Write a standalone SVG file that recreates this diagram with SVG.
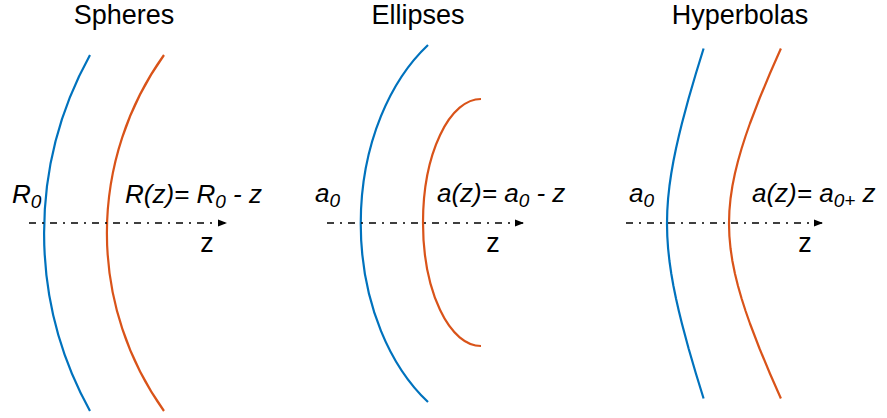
<svg xmlns="http://www.w3.org/2000/svg" width="887" height="418" viewBox="0 0 887 418">
<style>
.title{font-family:"Liberation Sans",Arial,sans-serif;font-size:27px;fill:#000;text-anchor:middle}
.lab{font-family:"Liberation Sans",Arial,sans-serif;font-size:26px;font-style:italic;fill:#000}
.sub{font-size:19px}
.zl{font-family:"Liberation Sans",Arial,sans-serif;font-size:27px;fill:#000;text-anchor:middle}
.blue{fill:none;stroke:#0072BD;stroke-width:2.2;stroke-linejoin:round}
.orange{fill:none;stroke:#D95319;stroke-width:2.2;stroke-linejoin:round}
.axis{fill:none;stroke:#000;stroke-width:1.5;stroke-dasharray:7 6 2 6}
</style>
<defs>
<marker id="arr" viewBox="0 0 10 8" refX="10" refY="4" markerWidth="6" markerHeight="4.8" markerUnits="strokeWidth" orient="auto">
<path d="M0,0 L10,4 L0,8 Z" fill="#000"/>
</marker>
</defs>

<g id="spheres">
<text class="title" x="124" y="24">Spheres</text>
<path class="blue" d="M90,55 A368,368 0 0 0 90,411"/>
<path class="orange" d="M164,55 A306,306 0 0 0 164,411"/>
<text class="lab" x="12" y="203">R<tspan class="sub" dy="5">0</tspan></text>
<text class="lab" x="125" y="203">R(z)= R<tspan class="sub" dy="5">0</tspan><tspan dy="-5"> - z</tspan></text>
<text class="zl" x="207" y="252">z</text>
</g>

<g id="ellipses">
<text class="title" x="418" y="24">Ellipses</text>
<path class="blue" d="M428,45 A150,214 0 0 0 428,402"/>
<path class="orange" d="M481,99 A58,123.5 0 0 0 481,346"/>
<text class="lab" x="315" y="202">a<tspan class="sub" dy="5">0</tspan></text>
<text class="lab" x="437" y="202">a(z)= a<tspan class="sub" dy="5">0</tspan><tspan dy="-5"> - z</tspan></text>
<text class="zl" x="493" y="252">z</text>
</g>

<g id="hyperbolas">
<text class="title" x="740" y="24">Hyperbolas</text>
<polyline class="blue" points="703.6,48.5 695.9,73.5 688.6,98.5 681.9,123.5 678.84,136 676,148.5 673.45,161 671.25,173.5 669.45,186 668.1,198.5 667.28,211 667,223.5 667.28,236 668.1,248.5 669.45,261 671.25,273.5 673.45,286 676,298.5 678.84,311 681.9,323.5 688.6,348.5 695.9,373.5 703.6,398.5"/>
<polyline class="orange" points="780.9,48.5 769.91,73.5 759.51,98.5 749.95,123.5 745.59,136 741.59,148.5 738.01,161 734.92,173.5 732.4,186 730.54,198.5 729.39,211 729,223.5 729.39,236 730.54,248.5 732.4,261 734.92,273.5 738.01,286 741.59,298.5 745.59,311 749.95,323.5 759.51,348.5 769.91,373.5 780.9,398.5"/>
<text class="lab" x="629" y="202">a<tspan class="sub" dy="5">0</tspan></text>
<text class="lab" x="752" y="202">a(z)= a<tspan class="sub" dy="5">0+</tspan><tspan dy="-5"> z</tspan></text>
<text class="zl" x="805" y="252">z</text>
</g>

<g id="connectors">
<line class="axis" x1="29" y1="223" x2="227" y2="223" marker-end="url(#arr)"/>
<line class="axis" x1="327" y1="223" x2="524" y2="223" marker-end="url(#arr)"/>
<line class="axis" x1="626" y1="223" x2="823" y2="223" marker-end="url(#arr)"/>
</g>
</svg>
